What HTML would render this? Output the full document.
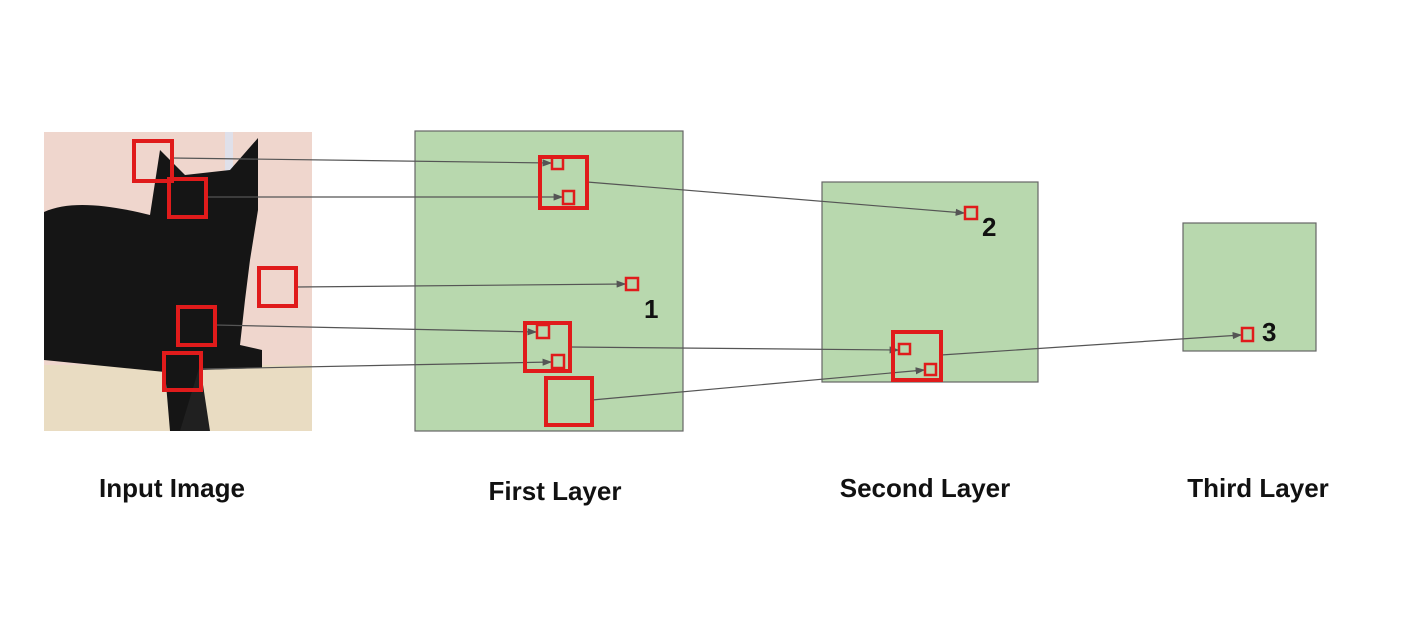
<!DOCTYPE html>
<html><head><meta charset="utf-8"><style>
html,body{margin:0;padding:0;background:#fff;}
svg{display:block;font-family:"Liberation Sans",Arial,sans-serif;}
</style></head><body>
<svg width="1415" height="623" viewBox="0 0 1415 623">
<defs><marker id="ar" markerWidth="8" markerHeight="6" refX="7" refY="3" orient="auto"><path d="M0,0 L8,3 L0,6 z" fill="#555"/></marker></defs>
<g>
<rect x="44" y="132" width="268" height="299" fill="#efd6cd"/>
<rect x="225" y="132" width="8" height="60" fill="#dfe0ea"/>
<rect x="44" y="365" width="268" height="66" fill="#e9dcc2"/>
<path d="M44,212 C70,200 110,205 150,215 L160,150 L185,175 L230,170 L258,138 L258,210 L250,260 L245,300 L240,345 L262,350 L262,368 L200,370 L190,431 L170,431 L165,372 L44,360 Z" fill="#151515"/>
<path d="M180,431 L200,365 L210,431 Z" fill="#202020"/>
</g>
<g stroke="#666" stroke-width="1.2" fill="#b8d8ae">
<rect x="415" y="131" width="268" height="300"/>
<rect x="822" y="182" width="216" height="200"/>
<rect x="1183" y="223" width="133" height="128"/>
</g>
<g stroke="#555" stroke-width="1.2" fill="none" marker-end="url(#ar)">
<line x1="172" y1="158" x2="551" y2="163"/>
<line x1="206" y1="197" x2="562" y2="197"/>
<line x1="296" y1="287" x2="625" y2="284"/>
<line x1="215" y1="325" x2="536" y2="332"/>
<line x1="201" y1="369" x2="551" y2="362"/>
<line x1="587" y1="182" x2="964" y2="213"/>
<line x1="570" y1="347" x2="898" y2="350"/>
<line x1="592" y1="400" x2="924" y2="370"/>
<line x1="941" y1="355" x2="1241" y2="335"/>
</g>
<g fill="none" stroke="#e01b1b">
<g stroke-width="4">
<rect x="134" y="141" width="38" height="40"/>
<rect x="169" y="179" width="37" height="38"/>
<rect x="259" y="268" width="37" height="38"/>
<rect x="178" y="307" width="37" height="38"/>
<rect x="164" y="353" width="37" height="37"/>
<rect x="540" y="157" width="47" height="51"/>
<rect x="525" y="323" width="45" height="48"/>
<rect x="546" y="378" width="46" height="47"/>
<rect x="893" y="332" width="48" height="48"/>
</g>
<g stroke-width="2.5">
<rect x="552" y="157" width="11" height="12"/>
<rect x="563" y="191" width="11" height="13"/>
<rect x="626" y="278" width="12" height="12"/>
<rect x="537" y="325" width="12" height="13"/>
<rect x="552" y="355" width="12" height="13"/>
<rect x="965" y="207" width="12" height="12"/>
<rect x="899" y="344" width="11" height="10"/>
<rect x="925" y="364" width="11" height="11"/>
<rect x="1242" y="328" width="11" height="13"/>
</g>
</g>
<g font-weight="bold" fill="#111">
<text x="644" y="318" font-size="26">1</text>
<text x="982" y="236" font-size="26">2</text>
<text x="1262" y="341" font-size="26">3</text>
<g font-size="26" text-anchor="middle">
<text x="172" y="497">Input Image</text>
<text x="555" y="500">First Layer</text>
<text x="925" y="497">Second Layer</text>
<text x="1258" y="497">Third Layer</text>
</g>
</g>
</svg>
</body></html>
